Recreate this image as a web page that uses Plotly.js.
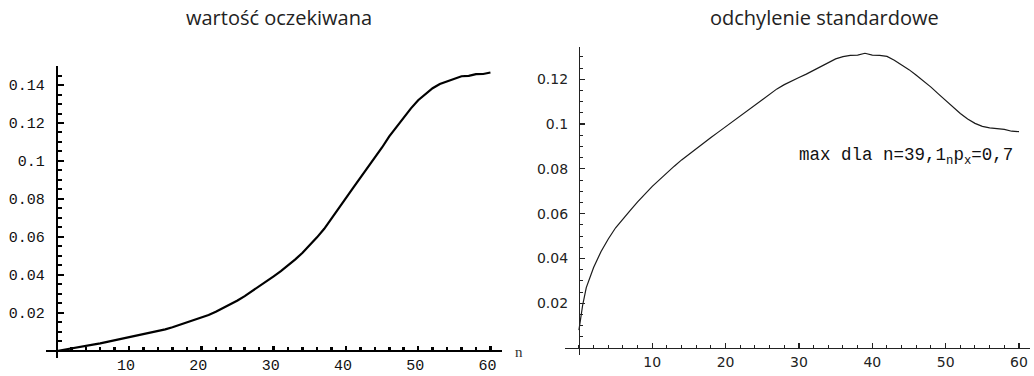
<!DOCTYPE html>
<html>
<head>
<meta charset="utf-8">
<script src="https://cdn.plot.ly/plotly-3.0.1.min.js"></script>
<style>
  html, body { margin: 0; padding: 0; background: #fff; }
  #chart { width: 1034px; height: 376px; }
</style>
</head>
<body>
<div id="chart"></div>
<script>
// Expected value by n
const nMean = [0,1,2,3,4,5,6,7,8,9,10,11,12,13,14,15,16,17,18,19,20,
  21,22,23,24,25,26,27,28,29,30,31,32,33,34,35,36,37,38,39,40,
  41,42,43,44,45,46,47,48,49,50,51,52,53,54,55,56,57,58,59,60];
const meanVals = [0,0.0006,0.0012,0.0018,0.0026,0.0033,0.0040,0.0048,0.0056,0.0064,0.0071,
  0.0079,0.0087,0.0096,0.0105,0.0114,0.0125,0.0137,0.0149,0.0161,0.0174,
  0.0189,0.0206,0.0225,0.0245,0.0266,0.0289,0.0314,0.0341,0.0366,0.0393,
  0.0420,0.0450,0.0482,0.0517,0.0555,0.0598,0.0643,0.0695,0.0748,0.0805,
  0.0858,0.0910,0.0962,0.1014,0.1071,0.1130,0.1180,0.1228,0.1277,0.1320,
  0.1352,0.1383,0.1405,0.1420,0.1433,0.1446,0.1448,0.1457,0.1458,0.1466];

// Standard deviation by n
const nStd = [0,0.3,0.5,1,2,3,4,5,6,7,8,9,10,11,12,13,14,15,16,17,18,19,20,
  21,22,23,24,25,26,27,28,29,30,31,32,33,34,35,36,37,38,39,40,
  41,42,43,44,45,46,47,48,49,50,51,52,53,54,55,56,57,58,59,60];
const stdVals = [0.008,0.016,0.019,0.027,0.036,0.043,0.0487,0.0537,0.0578,0.0615,0.0653,0.0688,0.0722,
  0.0752,0.0783,0.0812,0.0840,0.0866,0.0891,0.0916,0.0940,0.0964,0.0988,
  0.1013,0.1037,0.1058,0.1082,0.1107,0.1133,0.1157,0.1176,0.1193,0.1208,
  0.1223,0.1240,0.1258,0.1276,0.1291,0.1301,0.1307,0.1308,0.1316,0.1308,
  0.1307,0.1302,0.1285,0.1264,0.1243,0.1218,0.1192,0.1165,0.1135,0.1105,
  0.1075,0.1047,0.1023,0.1003,0.0990,0.0983,0.0980,0.0976,0.0968,0.0966];

const xTickVals = [10,20,30,40,50,60];
const xTickText = ['10','20','30','40','50','60'];
const yTickVals = [0.02,0.04,0.06,0.08,0.1,0.12,0.14];
const yTickText = ['0.02','0.04','0.06','0.08','0.1','0.12','0.14'];
const yTickVals2 = [0.02,0.04,0.06,0.08,0.1,0.12];
const yTickText2 = ['0.02','0.04','0.06','0.08','0.1','0.12'];

const titleLeft = 'wartość oczekiwana';
const titleRight = 'odchylenie standardowe';
const noteText = 'max dla n=39,1<sub>n</sub>p<sub>x</sub>=0,7';

const W = 1034, H = 376;
// panel boxes in pixels: [left, right, top, bottom]
const boxL = [46, 502, 66, 358];
const boxR = [565, 1030, 47, 355];
const xRangeL = [-1.5, 61.6], yRangeL = [-0.0037, 0.150];
const xRangeR = [-1.9, 61.5], yRangeR = [-0.0031, 0.1344];

function dom(b) {
  return { x: [b[0] / W, b[1] / W], y: [1 - b[3] / H, 1 - b[2] / H] };
}
const dL = dom(boxL), dR = dom(boxR);
// paper position of the value 0 on each axis, so axes cross at the origin
function cross(range, d) {
  return d[0] + (0 - range[0]) / (range[1] - range[0]) * (d[1] - d[0]);
}

const monoFont = { family: 'Liberation Mono, Courier New, monospace', size: 15, color: '#111' };
const sansFont = { family: 'DejaVu Sans, Verdana, sans-serif', size: 14, color: '#222' };

const traces = [
  { x: nMean, y: meanVals, type: 'scatter', mode: 'lines', xaxis: 'x', yaxis: 'y',
    line: { color: '#000', width: 2.2 }, hoverinfo: 'skip' },
  { x: nStd, y: stdVals, type: 'scatter', mode: 'lines', xaxis: 'x2', yaxis: 'y2',
    line: { color: '#1a1a1a', width: 1.2 }, hoverinfo: 'skip' }
];

const layout = {
  width: W, height: H,
  margin: { l: 0, r: 0, t: 0, b: 0 },
  paper_bgcolor: '#fff', plot_bgcolor: 'rgba(0,0,0,0)',
  showlegend: false,
  xaxis: {
    domain: dL.x, range: xRangeL, anchor: 'free', position: cross(yRangeL, dL.y),
    showgrid: false, zeroline: false, showline: true, linecolor: '#000', linewidth: 2.5,
    ticks: 'inside', ticklen: 4, tickwidth: 2.5, tickcolor: '#000',
    tickvals: xTickVals, ticktext: xTickText, tickfont: monoFont,
    ticklabelstandoff: 0, ticklabelshift: -3,
    minor: { dtick: 2, tick0: 0, ticks: 'inside', ticklen: 3, tickwidth: 2.5, tickcolor: '#000', showgrid: false }
  },
  yaxis: {
    domain: dL.y, range: yRangeL, anchor: 'free', position: cross(xRangeL, dL.x),
    showgrid: false, zeroline: false, showline: true, linecolor: '#000', linewidth: 2.5,
    ticks: 'inside', ticklen: 6, tickwidth: 2, tickcolor: '#000',
    tickvals: yTickVals, ticktext: yTickText, tickfont: monoFont, ticklabelstandoff: 8,
    minor: { dtick: 0.005, tick0: 0, ticks: 'inside', ticklen: 4, tickwidth: 2, tickcolor: '#000', showgrid: false }
  },
  xaxis2: {
    domain: dR.x, range: xRangeR, anchor: 'free', position: cross(yRangeR, dR.y),
    showgrid: false, zeroline: false, showline: true, linecolor: '#222', linewidth: 1.3,
    ticks: 'inside', ticklen: 5, tickwidth: 1.2, tickcolor: '#222',
    tickvals: xTickVals, ticktext: xTickText, tickfont: sansFont, ticklabelstandoff: 1,
    minor: { dtick: 2, tick0: 0, ticks: 'inside', ticklen: 3, tickwidth: 1, tickcolor: '#222', showgrid: false }
  },
  yaxis2: {
    domain: dR.y, range: yRangeR, anchor: 'free', position: cross(xRangeR, dR.x),
    showgrid: false, zeroline: false, showline: true, linecolor: '#222', linewidth: 1.3,
    ticks: 'inside', ticklen: 5, tickwidth: 1.2, tickcolor: '#222',
    tickvals: yTickVals2, ticktext: yTickText2, tickfont: sansFont, ticklabelstandoff: 8,
    minor: { dtick: 0.005, tick0: 0, ticks: 'inside', ticklen: 3, tickwidth: 1, tickcolor: '#222', showgrid: false }
  },
  annotations: [
    { text: titleLeft, xref: 'paper', yref: 'paper', x: 279 / W, y: 1 - 17 / H,
      xanchor: 'center', yanchor: 'middle', showarrow: false,
      font: { family: 'Open Sans, sans-serif', size: 20, color: '#222' } },
    { text: titleRight, xref: 'paper', yref: 'paper', x: 824 / W, y: 1 - 17 / H,
      xanchor: 'center', yanchor: 'middle', showarrow: false,
      font: { family: 'Open Sans, sans-serif', size: 20, color: '#222' } },
    { text: 'n', xref: 'paper', yref: 'paper', x: 519 / W, y: 1 - 352 / H,
      xanchor: 'center', yanchor: 'middle', showarrow: false,
      font: { family: 'Liberation Serif, serif', size: 15, color: '#333' } },
    { text: noteText, xref: 'x2', yref: 'y2', x: 29.7, y: 0.0853,
      xanchor: 'left', yanchor: 'middle', showarrow: false,
      font: { family: 'Liberation Mono, Courier New, monospace', size: 17.5, color: '#111' } }
  ]
};

Plotly.newPlot('chart', traces, layout, { staticPlot: true, displayModeBar: false });
</script>
</body>
</html>
